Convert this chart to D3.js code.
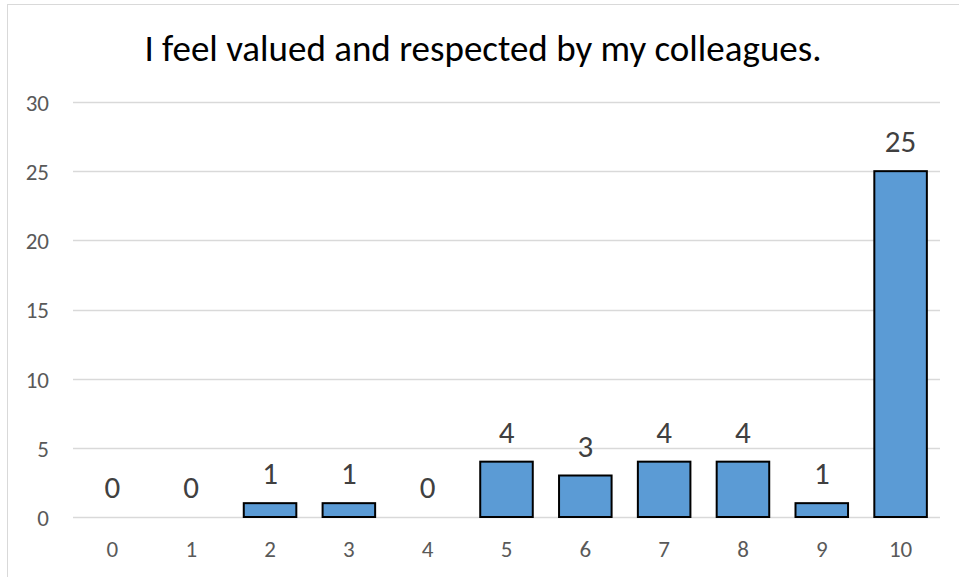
<!DOCTYPE html>
<html><head><meta charset="utf-8">
<script src="https://cdn.jsdelivr.net/npm/d3@7"></script>
<style>body{margin:0;background:#fff}svg{display:block}</style>
</head><body>
<script>
const categories = ["0","1","2","3","4","5","6","7","8","9","10"];
const values = [0,0,1,1,0,4,3,4,4,1,25];
const yTicks = [0,5,10,15,20,25,30];
const title = "I feel valued and respected by my colleagues.";

const W = 959, H = 577;
const svg = d3.select("body").append("svg").attr("width", W).attr("height", H);
const font = "Carlito, Calibri, Lato, 'Open Sans', sans-serif";

svg.append("rect").attr("x", 7.5).attr("y", 4.5).attr("width", W).attr("height", H)
  .attr("fill", "#fff").attr("stroke", "#d9d9d9");

const x = d3.scaleBand().domain(categories).range([73, 940]).paddingInner(1/3).paddingOuter(1/6);
const y = d3.scaleLinear().domain([0, 30]).range([517, 102]);

const grid = svg.append("g");
yTicks.forEach(t => {
  grid.append("line").attr("x1", 73).attr("x2", 940).attr("y1", Math.round(y(t)) + 0.5).attr("y2", Math.round(y(t)) + 0.5)
    .attr("stroke", "#d9d9d9").attr("stroke-width", 1.3);
});

const yAxis = d3.axisLeft(y).tickValues(yTicks).tickSize(0).tickPadding(0);
const gy = svg.append("g").attr("transform", "translate(49,1)").call(yAxis);
gy.select(".domain").remove();
gy.selectAll("text").attr("font-family", font).attr("font-size", 23).attr("fill", "#595959");

const xAxis = d3.axisBottom(x).tickSize(0).tickPadding(0);
const gx = svg.append("g").attr("transform", "translate(0,541)").call(xAxis);
gx.select(".domain").remove();
gx.selectAll("text").attr("font-family", font).attr("font-size", 23).attr("fill", "#595959");

svg.append("g").selectAll("rect").data(values).join("rect")
  .attr("x", (d, i) => x(categories[i]))
  .attr("width", x.bandwidth())
  .attr("y", d => y(d))
  .attr("height", d => y(0) - y(d))
  .attr("fill", "#5b9bd5")
  .attr("stroke", d => d > 0 ? "#000" : "none")
  .attr("stroke-width", 2);

svg.append("g").selectAll("text").data(values).join("text")
  .attr("x", (d, i) => x(categories[i]) + x.bandwidth() / 2)
  .attr("y", d => y(d) - 19)
  .attr("text-anchor", "middle")
  .attr("font-family", font).attr("font-size", 31).attr("fill", "#404040")
  .text(d => d);

svg.append("text").attr("x", 483).attr("y", 61).attr("text-anchor", "middle")
  .attr("font-family", font).attr("font-size", 37).attr("fill", "#000")
  .text(title);
</script>
</body></html>
